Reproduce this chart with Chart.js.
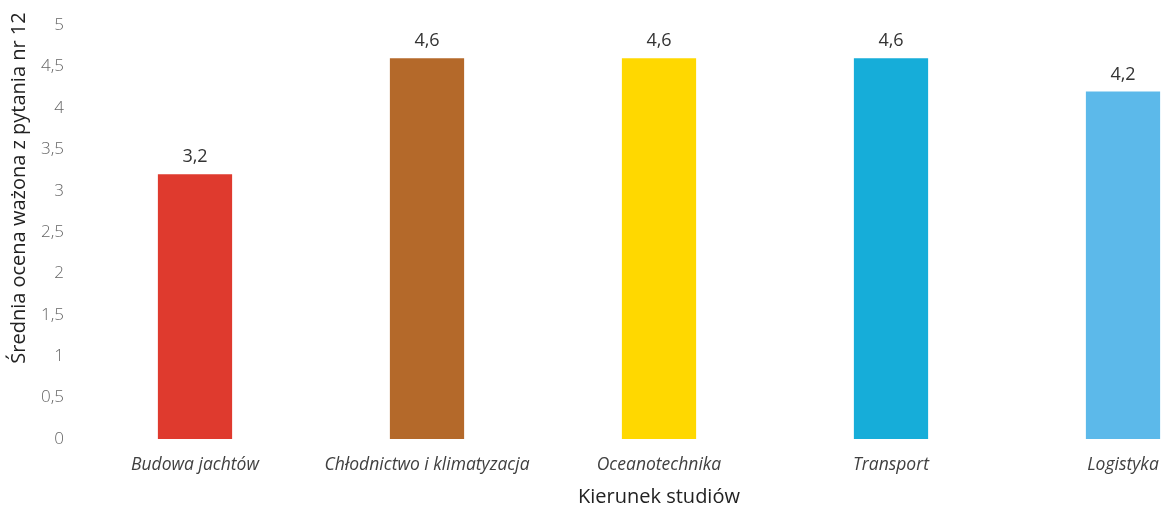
<!DOCTYPE html>
<html><head><meta charset="utf-8">
<script src="https://cdn.jsdelivr.net/npm/chart.js@4.4.1/dist/chart.umd.min.js"></script>
<style>
html,body{margin:0;padding:0;background:#fff;overflow:hidden;}
#wrap{width:1165px;height:509px;overflow:hidden;position:relative;}
#box{position:absolute;left:0;top:0;width:1240px;height:509px;}
</style></head>
<body>
<div id="wrap"><div id="box"><canvas id="c" width="1240" height="509"></canvas></div></div>
<script>
const categories = ["Budowa jachtów", "Chłodnictwo i klimatyzacja", "Oceanotechnika", "Transport", "Logistyka"];
const values = [3.2, 4.6, 4.6, 4.6, 4.2];
const barColors = ["#DF3A2E", "#B4692A", "#FFD800", "#16ADD9", "#5CB9EA"];
const yTitle = "Średnia ocena ważona z pytania nr 12";
const xTitle = "Kierunek studiów";

const fmt = v => String(v).replace('.', ',');

const labelPlugin = {
  id: 'labels',
  afterDatasetsDraw(chart) {
    const ctx = chart.ctx;
    const meta = chart.getDatasetMeta(0);
    ctx.save();
    ctx.font = '18px "Open Sans"';
    ctx.fillStyle = '#333333';
    ctx.textAlign = 'center';
    ctx.textBaseline = 'bottom';
    meta.data.forEach((bar, i) => {
      ctx.fillText(fmt(values[i]), bar.x, bar.y - 8);
    });
    // y title
    ctx.translate(19, 188);
    ctx.rotate(-Math.PI / 2);
    ctx.font = '500 20px "Open Sans"';
    ctx.fillStyle = '#222222';
    ctx.textBaseline = 'middle';
    ctx.fillText(yTitle, 0, 0);
    ctx.restore();
  }
};

new Chart(document.getElementById('c'), {
  type: 'bar',
  data: {
    labels: categories,
    datasets: [{ data: values, backgroundColor: barColors, barPercentage: 0.32, categoryPercentage: 1 }]
  },
  options: {
    responsive: false,
    animation: false,
    layout: { padding: { top: 21, right: 1, left: 0, bottom: 0 } },
    plugins: { legend: { display: false }, tooltip: { enabled: false } },
    scales: {
      x: {
        grid: { display: false, drawTicks: false },
        border: { display: false },
        ticks: { color: '#404040', font: { family: 'Open Sans', size: 17.5, style: 'italic' }, padding: 16, maxRotation: 0 },
        title: { display: true, text: xTitle, color: '#222222', font: { family: 'Open Sans', size: 20, weight: '500' }, padding: { top: 5, bottom: 0 } },
        afterFit(s) { s.height = 70; }
      },
      y: {
        min: 0, max: 5,
        grid: { display: false, drawTicks: false },
        border: { display: false },
        ticks: { stepSize: 0.5, color: '#666666', font: { family: 'Open Sans', size: 17, weight: '300' }, padding: 15, callback: v => fmt(v) },
        afterFit(s) { s.width = 79; }
      }
    }
  },
  plugins: [labelPlugin]
});
</script>
</body></html>
